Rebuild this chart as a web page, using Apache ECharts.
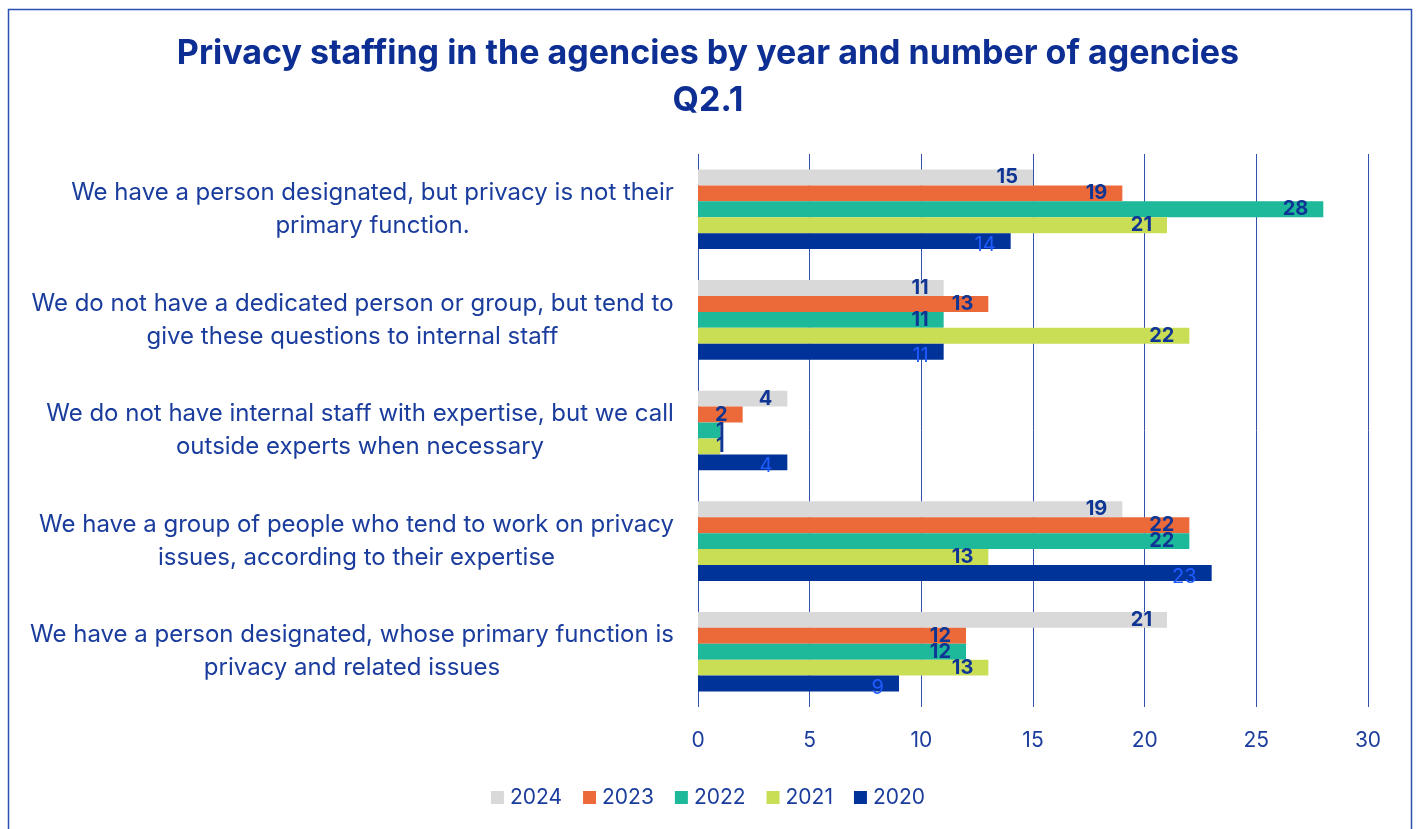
<!DOCTYPE html>
<html>
<head>
<meta charset="utf-8">
<script src="https://cdn.jsdelivr.net/npm/echarts@6/dist/echarts.min.js"></script>
<style>
  html, body { margin: 0; padding: 0; background: #ffffff; }
  #chart { width: 1416px; height: 829px; }
</style>
</head>
<body>
<div id="chart"></div>
<script>
// Survey answers (top to bottom)
const categories = [
  'We have a person designated, but privacy is not their\nprimary function.',
  'We do not have a dedicated person or group, but tend to\ngive these questions to internal staff',
  'We do not have internal staff with expertise, but we call\noutside experts when necessary',
  'We have a group of people who tend to work on privacy\nissues, according to their expertise',
  'We have a person designated, whose primary function is\nprivacy and related issues'
];

// Number of agencies per year
const years = ['2024', '2023', '2022', '2021', '2020'];
const values2024 = [15, 11, 4, 19, 21];
const values2023 = [19, 13, 2, 22, 12];
const values2022 = [28, 11, 1, 22, 12];
const values2021 = [21, 22, 1, 13, 13];
const values2020 = [14, 11, 4, 23, 9];

const xTicks = [0, 5, 10, 15, 20, 25, 30];

const yearValues = [values2024, values2023, values2022, values2021, values2020];
const colors = ['#d9d9d9', '#ec6a39', '#1db99a', '#c9de55', '#003399'];

const textColor = '#1a3c9c';
const fontFamily = 'Inter, "Noto Sans", Arial, sans-serif';
const catFontSize = 24;

// Each category label is right-aligned as a block, with its lines centred inside it
const measureCtx = document.createElement('canvas').getContext('2d');
measureCtx.font = catFontSize + 'px ' + fontFamily;
const richStyles = {};
const labelFormat = {};
categories.forEach((c, i) => {
  const lines = c.split('\n');
  const w = Math.ceil(Math.max(...lines.map(l => measureCtx.measureText(l).width)));
  richStyles['c' + i] = {
    width: w, align: 'center', fontSize: catFontSize, lineHeight: 33,
    color: textColor, fontFamily: fontFamily
  };
  labelFormat[c] = lines.map(l => '{c' + i + '|' + l + '}').join('\n');
});

const series = years.map((y, si) => {
  const isLast = si === years.length - 1;
  return {
    name: y,
    type: 'bar',
    barGap: '0%',
    barCategoryGap: '28%',
    itemStyle: { color: colors[si] },
    data: yearValues[si].map(v => v <= 1
      ? { value: v, label: { position: 'insideLeft', distance: 18 } }
      : v),
    label: {
      show: true,
      position: 'insideRight',
      distance: 15,
      offset: isLast ? [0, 4] : [0, 0],
      color: isLast ? '#1f5bff' : '#0f3694',
      fontWeight: isLast ? 'normal' : 'bold',
      fontSize: 20,
      fontFamily: fontFamily
    }
  };
});

const chart = echarts.init(document.getElementById('chart'));
chart.setOption({
  backgroundColor: '#ffffff',
  animation: false,
  title: {
    text: 'Privacy staffing in the agencies by year and number of agencies\nQ2.1',
    left: 'center',
    top: 25,
    textStyle: {
      color: '#0d2f94',
      fontSize: 34,
      fontWeight: 'bold',
      lineHeight: 47,
      fontFamily: fontFamily
    }
  },
  graphic: [{
    type: 'rect',
    shape: { x: 8.5, y: 9.5, width: 1403, height: 830 },
    style: { fill: 'none', stroke: '#2a4fb0', lineWidth: 1.5 },
    silent: true
  }],
  legend: {
    data: years,
    bottom: 16,
    left: 'center',
    itemWidth: 13,
    itemHeight: 13,
    itemGap: 21,
    icon: 'rect',
    textStyle: { color: textColor, fontSize: 21, fontFamily: fontFamily, padding: [0, 0, 0, 1] }
  },
  grid: { left: 698, right: 48, top: 154, bottom: 122, containLabel: false },
  xAxis: {
    type: 'value',
    min: xTicks[0],
    max: xTicks[xTicks.length - 1],
    interval: xTicks[1] - xTicks[0],
    axisLine: { show: false },
    axisTick: { show: false },
    axisLabel: { color: textColor, fontSize: 21, margin: 23, fontFamily: fontFamily },
    splitLine: { show: true, lineStyle: { color: '#3352ab', width: 1 } }
  },
  yAxis: {
    type: 'category',
    data: categories,
    inverse: true,
    axisLine: { show: false },
    axisTick: { show: false },
    axisLabel: {
      margin: 24,
      align: 'right',
      formatter: v => labelFormat[v],
      rich: richStyles
    }
  },
  series: series
});
</script>
</body>
</html>
